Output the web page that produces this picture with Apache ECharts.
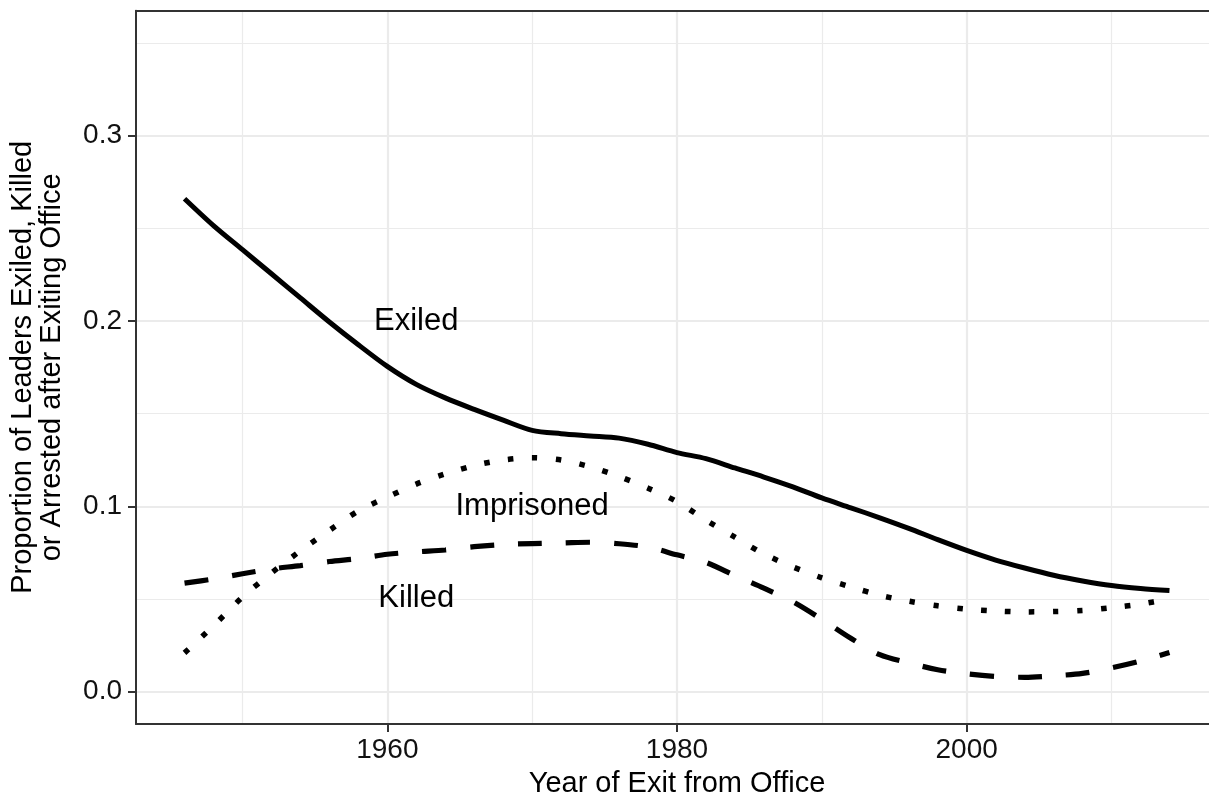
<!DOCTYPE html>
<html>
<head>
<meta charset="utf-8">
<script src="https://cdn.jsdelivr.net/npm/echarts@6/dist/echarts.min.js"></script>
<style>
html,body{margin:0;padding:0;background:#fff;}
#chart{width:1209px;height:799px;}
</style>
</head>
<body>
<div id="chart"></div>
<script>
const years = [1946,1948,1950,1952,1954,1956,1958,1960,1962,1964,1966,1968,1970,1972,1974,1976,1978,1980,1982,1984,1986,1988,1990,1992,1994,1996,1998,2000,2002,2004,2006,2008,2010,2012,2014];
const exiled = [0.266,0.2515,0.2385,0.2255,0.2125,0.1995,0.1872,0.1755,0.1658,0.1585,0.1523,0.1465,0.141,0.1392,0.138,0.1368,0.1335,0.129,0.1257,0.1207,0.1158,0.1105,0.1045,0.0992,0.0938,0.0881,0.082,0.0762,0.071,0.0667,0.0628,0.0597,0.0572,0.0556,0.0545];
const imprisoned = [0.0209,0.0355,0.051,0.064,0.076,0.087,0.0975,0.105,0.112,0.1175,0.122,0.125,0.1262,0.125,0.1213,0.1161,0.1098,0.1025,0.0925,0.0833,0.0743,0.0673,0.0614,0.0565,0.052,0.0488,0.0463,0.0445,0.0435,0.043,0.0432,0.0438,0.0453,0.0472,0.050];
const killed = [0.0585,0.0608,0.0636,0.0662,0.068,0.0702,0.0718,0.0741,0.0754,0.0764,0.0782,0.0794,0.0799,0.0802,0.0806,0.0798,0.078,0.0738,0.0697,0.0626,0.0558,0.0485,0.039,0.0288,0.0199,0.0155,0.0118,0.0096,0.0082,0.0077,0.0085,0.0098,0.0128,0.0165,0.0211];
const labelTexts = ['Exiled','Imprisoned','Killed'];
const labelYears = [1962,1970,1962];
const labelValues = [0.2,0.1,0.05];
const xMajorTicks = [1960,1980,2000];
const xMinorTicks = [1950,1970,1990,2010];
const yMajorTicks = [0,0.1,0.2,0.3];
const yMinorTicks = [0.05,0.15,0.25,0.35];

const FONT = '"Liberation Sans", Arial, Helvetica, sans-serif';
const chart = echarts.init(document.getElementById('chart'), null, {renderer:'canvas'});
const pair = (xs, ys) => xs.map((x,i)=>[x, ys[i]]);
const lineBase = {type:'line', showSymbol:false, symbol:'none', smooth:0.3, z:5, xAxisIndex:0, yAxisIndex:0,
  itemStyle:{color:'#000'}};

chart.setOption({
  animation:false,
  backgroundColor:'#ffffff',
  color:['#000000'],
  grid:{left:136, top:10.7, width:1082, height:713.3, containLabel:false, outerBoundsMode:'none'},
  xAxis:[{
    type:'value', min:1942.65, max:2017.35, position:'bottom',
    name:'Year of Exit from Office', nameLocation:'middle', nameGap:43.5,
    nameTextStyle:{fontFamily:FONT, fontSize:29, color:'#000'},
    axisLine:{show:true, onZero:false, lineStyle:{color:'#333333', width:2}},
    axisTick:{show:true, length:8, lineStyle:{color:'#333333', width:2}, customValues:xMajorTicks},
    axisLabel:{show:true, margin:12.7, fontFamily:FONT, fontSize:28, color:'#111111', customValues:xMajorTicks,
      formatter:v=>String(v)},
    splitLine:{show:true, lineStyle:{color:'#ebebeb', width:2.2}},
    minorTick:{show:false}, minorSplitLine:{show:false}
  },{
    type:'value', min:1942.65, max:2017.35, position:'top',
    axisLine:{show:true, onZero:false, lineStyle:{color:'#333333', width:2}},
    axisTick:{show:false, customValues:xMinorTicks},
    axisLabel:{show:false, customValues:xMinorTicks},
    splitLine:{show:true, lineStyle:{color:'#ebebeb', width:1.2}}
  }],
  yAxis:[{
    type:'value', min:-0.0175, max:0.3675, position:'left',
    name:'Proportion of Leaders Exiled, Killed\nor Arrested after Exiting Office',
    nameLocation:'middle', nameGap:70, nameRotate:90,
    nameTextStyle:{fontFamily:FONT, fontSize:29, color:'#000', lineHeight:28.5, align:'center'},
    axisLine:{show:true, onZero:false, lineStyle:{color:'#333333', width:2}},
    axisTick:{show:true, length:8, lineStyle:{color:'#333333', width:2}, customValues:yMajorTicks},
    axisLabel:{show:true, margin:14, fontFamily:FONT, fontSize:28, color:'#111111', customValues:yMajorTicks,
      formatter:v=>Number(v).toFixed(1)},
    splitLine:{show:true, lineStyle:{color:'#ebebeb', width:2.2}}
  },{
    type:'value', min:-0.0175, max:0.3675, position:'right',
    axisLine:{show:false},
    axisTick:{show:false, customValues:yMinorTicks},
    axisLabel:{show:false, customValues:yMinorTicks},
    splitLine:{show:true, lineStyle:{color:'#ebebeb', width:1.2}}
  }],
  series:[
    Object.assign({}, lineBase, {name:'Exiled', data:pair(years, exiled),
      lineStyle:{color:'#000', width:5, type:'solid', cap:'butt'}}),
    Object.assign({}, lineBase, {name:'Imprisoned', data:pair(years, imprisoned),
      lineStyle:{color:'#000', width:5.5, type:[5.5,18.5], cap:'butt'}}),
    Object.assign({}, lineBase, {name:'Killed', data:pair(years, killed),
      lineStyle:{color:'#000', width:5.2, type:[24,24], cap:'butt'}}),
    {type:'scatter', name:'labels', xAxisIndex:0, yAxisIndex:0, symbolSize:0, z:6,
      itemStyle:{color:'#000', opacity:0},
      data:labelTexts.map((t,i)=>({name:t, value:[labelYears[i], labelValues[i]]})),
      label:{show:true, position:'inside', formatter:p=>p.name, fontFamily:FONT, fontSize:31,
        color:'#000000', textBorderWidth:0, textBorderColor:'transparent', opacity:1},
      emphasis:{disabled:true}, silent:true}
  ]
});
</script>
</body>
</html>
